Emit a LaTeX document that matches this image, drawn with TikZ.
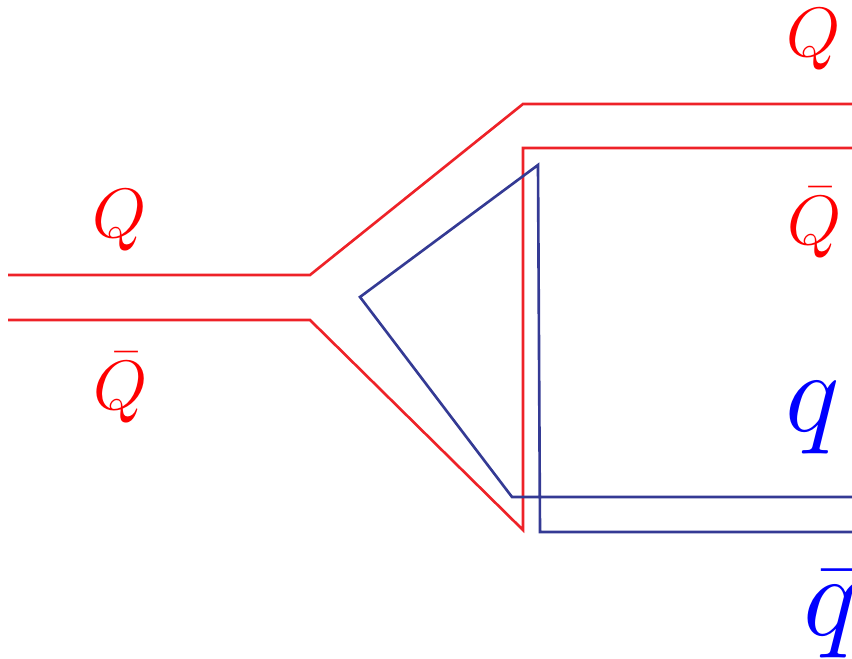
\documentclass[tikz,border=0pt]{standalone}
\usetikzlibrary{positioning}
\definecolor{HeavyRed}{HTML}{EE2228}
\definecolor{LightNavy}{HTML}{343A94}
\tikzset{heavy/.style={draw=HeavyRed,line width=1.5pt,line join=miter},
light/.style={draw=LightNavy,line width=1.5pt,line join=miter},
hlabel/.style={text=red,inner sep=0pt,font=\Huge,scale=1.6,transform shape},
llabel/.style={text=blue,inner sep=0pt,font=\Huge,scale=2.65,transform shape}}
\begin{document}
\begin{tikzpicture}[x=0.02cm,y=-0.02cm]
\useasboundingbox (0,0) rectangle (852,659);
\clip (0,0) rectangle (852,659);
% heavy quark pair
\coordinate (qin) at (8,275);\coordinate (qbend) at (310,275);
\coordinate (qtop) at (523,104);\coordinate (qout) at (860,104);
\coordinate (bin) at (8,320);\coordinate (bbend) at (310,320);
\coordinate (bcorner) at (523,530);\coordinate (btop) at (523,148);
\coordinate (bout) at (860,148);
\draw[heavy](qin)--(qbend)--(qtop)--(qout);
\draw[heavy](bin)--(bbend)--(bcorner)--(btop)--(bout);
% light pair
\coordinate (lout) at (860,497);\coordinate (lcorner) at (512,497);
\coordinate (ltip) at (360,297);\coordinate (lapex) at (538,165);
\coordinate (lbot) at (540,532);\coordinate (lend) at (860,532);
\draw[light](lout)--(lcorner)--(ltip)--(lapex)--(lbot)--(lend);
% labels
\node[hlabel](Qin) at (120,220){$Q$};
\node[hlabel](Qbarin) at (121,388){$\bar{Q}$};
\node[hlabel](Qout) at (814,39){$Q$};
\node[hlabel](Qbarout) at (815,223){$\bar{Q}$};
\node[llabel](qout) at (813,418){$q$};
\node[llabel,anchor=west](qbarout) at (803,614){$\bar{q}$};
\end{tikzpicture}
\end{document}
